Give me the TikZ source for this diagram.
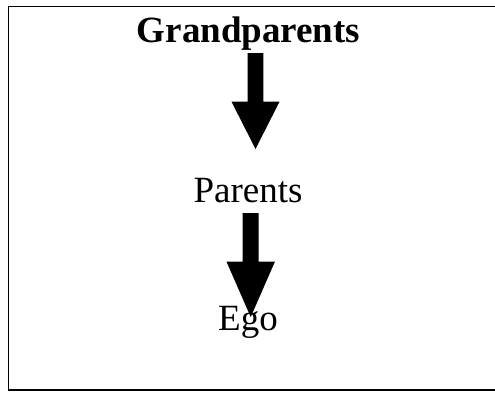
\documentclass[tikz,border=0pt]{standalone}
\usepackage{fontspec}
\setmainfont{Liberation Serif}
\usetikzlibrary{calc}
\begin{document}
\begin{tikzpicture}[x=1pt,y=-1pt,
  label/.style={inner sep=0pt,anchor=base,font=\fontsize{37}{40}\selectfont},
  frame/.style={draw=black,line width=1.6pt}]
\useasboundingbox (0,0) rectangle (495,392);
\clip (0,0) rectangle (495,392);
\draw[frame] (8.5,6.5) rectangle (520,390);
\node[label,font=\fontsize{37}{40}\selectfont\bfseries] (gp) at (248.5,42) {Grandparents};
\node[label] (par) at (248,202) {Parents};
\node[label] (ego) at (248,330.5) {Ego};
% arrow 1
\coordinate (a1top) at (255.5,53);
\coordinate (a1tip) at (255.5,149);
\fill let \p1=(a1top), \p2=(a1tip) in
  (\x1-7.8pt,\y1) -- (\x1+7.8pt,\y1) -- (\x1+7.8pt,\y2+47.3pt) -- (\x1+24pt,\y2+47.3pt)
  -- (\x2,\y2) -- (\x1-24pt,\y2+47.3pt) -- (\x1-7.8pt,\y2+47.3pt) -- cycle;
% arrow 2
\coordinate (a2top) at (250.7,213);
\coordinate (a2tip) at (250.7,317);
\fill let \p1=(a2top), \p2=(a2tip) in
  (\x1-8pt,\y1) -- (\x1+8pt,\y1) -- (\x1+8pt,\y2+55.3pt) -- (\x1+24.2pt,\y2+55.3pt)
  -- (\x2,\y2) -- (\x1-24.2pt,\y2+55.3pt) -- (\x1-8pt,\y2+55.3pt) -- cycle;
\end{tikzpicture}
\end{document}
